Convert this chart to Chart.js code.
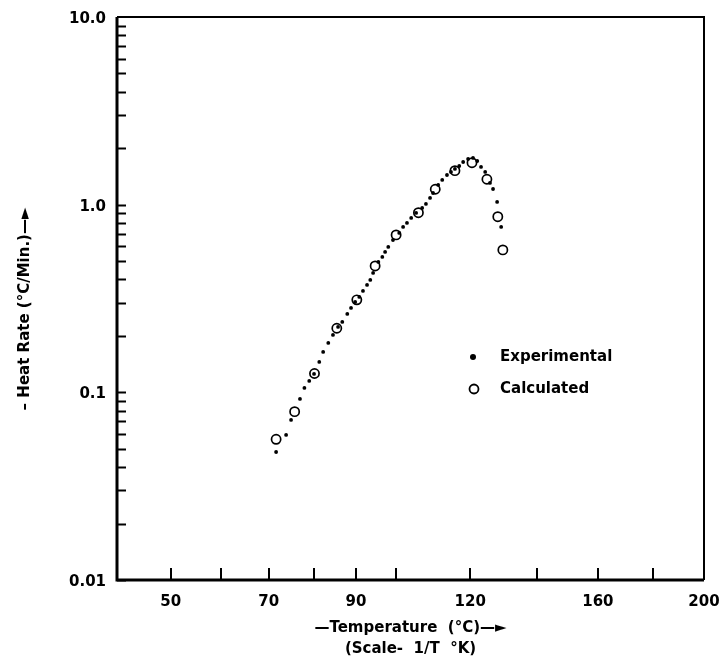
<!DOCTYPE html>
<html><head><meta charset="utf-8">
<script src="https://cdn.jsdelivr.net/npm/chart.js@4/dist/chart.umd.min.js"></script>
<style>html,body{margin:0;padding:0;background:#fff}canvas{display:block}</style>
</head><body>
<canvas id="c" width="721" height="659"></canvas>
<script>
// ---- data (temperature in °C, heat rate in °C/min) ----
const expTemps = [71.6, 73.8, 74.9, 76.9, 77.9, 79.0, 80.1, 81.3, 82.2, 83.4, 84.5, 85.7, 86.7, 87.9, 88.8, 89.8, 90.8, 91.7, 92.7, 93.5, 94.2, 95.5, 96.5, 97.2, 98.0, 99.2, 100.8, 101.8, 102.8, 103.9, 105.2, 106.8, 107.8, 108.9, 109.7, 111.1, 112.2, 113.5, 114.6, 115.7, 116.9, 118.0, 119.4, 120.8, 122.0, 123.1, 124.3, 125.7, 126.6, 127.8, 129.0];
const expRates = [0.0481, 0.0593, 0.0713, 0.0922, 0.1055, 0.1150, 0.1253, 0.1452, 0.1641, 0.1834, 0.2022, 0.2231, 0.2372, 0.2617, 0.2816, 0.3031, 0.3224, 0.3469, 0.3735, 0.3970, 0.4326, 0.4951, 0.5265, 0.5598, 0.5952, 0.6484, 0.7066, 0.7607, 0.7990, 0.8495, 0.9033, 0.9603, 1.009, 1.086, 1.154, 1.274, 1.354, 1.439, 1.494, 1.550, 1.607, 1.688, 1.752, 1.774, 1.709, 1.588, 1.494, 1.305, 1.212, 1.034, 0.761];
const calcTemps = [71.6, 75.7, 80.2, 85.4, 90.2, 94.7, 100.0, 105.8, 110.3, 115.7, 120.5, 124.8, 128.0, 129.5];
const calcRates = [0.0562, 0.0789, 0.126, 0.2195, 0.311, 0.4715, 0.690, 0.906, 1.208, 1.518, 1.674, 1.366, 0.863, 0.574];

const xTickTemps = [50, 60, 70, 80, 90, 100, 120, 140, 160, 180, 200];
const xLabelTemps = [50, 70, 90, 120, 160, 200];
const xMinTemp = 40, xMaxTemp = 200;
const yTickValues = [0.01, 0.1, 1, 10];
const yTickLabels = ['0.01', '0.1', '1.0', '10.0'];
const seriesNames = ['Experimental', 'Calculated'];

const FONT = '"DejaVu Sans", sans-serif';
const INK = '#000';
// reciprocal absolute temperature (scale 1/T °K)
const inv = t => 1000 / (t + 273.15);

const frameAndTicks = {
  id: 'frameAndTicks',
  afterDraw(chart) {
    const {ctx, chartArea: a, scales: {x, y}} = chart;
    ctx.save();
    ctx.strokeStyle = INK;
    ctx.lineCap = 'butt';
    // x ticks (inward)
    ctx.lineWidth = 2;
    xTickTemps.forEach(t => {
      if (t === xMaxTemp) return;
      const px = Math.round(x.getPixelForValue(inv(t)));
      ctx.beginPath(); ctx.moveTo(px, a.bottom); ctx.lineTo(px, a.bottom - 12); ctx.stroke();
    });
    // y ticks (inward, log minor)
    for (let e = -2; e < 1; e++) {
      for (let m = 1; m <= 9; m++) {
        const v = m * Math.pow(10, e);
        const py = Math.round(y.getPixelForValue(v)) + 0.5;
        ctx.beginPath(); ctx.moveTo(a.left, py); ctx.lineTo(a.left + 9, py); ctx.stroke();
      }
    }
    // frame
    ctx.lineWidth = 2;
    ctx.beginPath(); ctx.moveTo(a.left, a.top); ctx.lineTo(a.right, a.top); ctx.lineTo(a.right, a.bottom); ctx.stroke();
    ctx.lineWidth = 3;
    ctx.beginPath(); ctx.moveTo(a.left, a.top); ctx.lineTo(a.left, a.bottom); ctx.lineTo(a.right, a.bottom); ctx.stroke();

    // legend
    const lx = a.left + 356, ly1 = a.top + 340, ly2 = a.top + 372;
    ctx.fillStyle = INK;
    ctx.beginPath(); ctx.arc(lx, ly1, 3, 0, Math.PI * 2); ctx.fill();
    ctx.lineWidth = 1.8;
    ctx.beginPath(); ctx.arc(lx + 1, ly2, 4.5, 0, Math.PI * 2); ctx.stroke();
    ctx.font = 'bold 15px ' + FONT;
    ctx.textBaseline = 'middle';
    ctx.textAlign = 'left';
    ctx.fillText(seriesNames[0], lx + 27, ly1);
    ctx.fillText(seriesNames[1], lx + 27, ly2);
    ctx.restore();
  }
};

new Chart(document.getElementById('c'), {
  type: 'scatter',
  data: {
    datasets: [
      {
        label: seriesNames[0],
        data: expTemps.map((t, i) => ({x: inv(t), y: expRates[i]})),
        pointStyle: 'circle', pointRadius: 1.9, pointBorderWidth: 0,
        backgroundColor: INK, borderColor: INK
      },
      {
        label: seriesNames[1],
        data: calcTemps.map((t, i) => ({x: inv(t), y: calcRates[i]})),
        pointStyle: 'circle', pointRadius: 4.6, pointBorderWidth: 1.7,
        backgroundColor: 'rgba(0,0,0,0)', borderColor: INK
      }
    ]
  },
  options: {
    responsive: false, animation: false, devicePixelRatio: 1,
    layout: {padding: {left: 0, right: 17, top: 17, bottom: 0}},
    plugins: {legend: {display: false}, tooltip: {enabled: false}},
    scales: {
      x: {
        type: 'linear', reverse: true, min: inv(xMaxTemp), max: inv(xMinTemp),
        afterFit(s) { s.height = 79; s.paddingLeft = 0; s.paddingRight = 0; },
        afterBuildTicks(s) { s.ticks = xTickTemps.map(t => ({value: inv(t)})); },
        ticks: {
          autoSkip: false, maxRotation: 0, minRotation: 0, padding: 13, color: INK,
          font: {family: FONT, size: 15, weight: 'bold'},
          callback(v, i) { const t = xTickTemps[i]; return xLabelTemps.includes(t) ? String(t) : ''; }
        },
        grid: {display: false, drawTicks: false}, border: {display: false},
        title: {
          display: true, color: INK,
          text: ['\u2014Temperature  (\u00B0C)\u2014\u25BA', '(Scale-  1/T  \u00B0K)'],
          font: {family: FONT, size: 15, weight: 'bold', lineHeight: 1.4},
          padding: {top: 0, bottom: -1}
        }
      },
      y: {
        type: 'logarithmic', min: 0.01, max: 10,
        afterFit(s) { s.width = 117; s.paddingTop = 0; s.paddingBottom = 0; },
        afterBuildTicks(s) { s.ticks = yTickValues.map(v => ({value: v})); },
        ticks: {
          autoSkip: false, padding: 11, color: INK, labelOffset: 2,
          font: {family: FONT, size: 15, weight: 'bold'},
          callback(v, i) { return yTickLabels[i]; }
        },
        grid: {display: false, drawTicks: false}, border: {display: false},
        title: {
          display: true, color: INK,
          text: '\u2013 Heat Rate (\u00B0C/Min.)\u2014\u25BA    ',
          font: {family: FONT, size: 15, weight: 'bold', lineHeight: 1.3},
          padding: {top: 15, bottom: 0}
        }
      }
    }
  },
  plugins: [frameAndTicks]
});
</script>
</body></html>
